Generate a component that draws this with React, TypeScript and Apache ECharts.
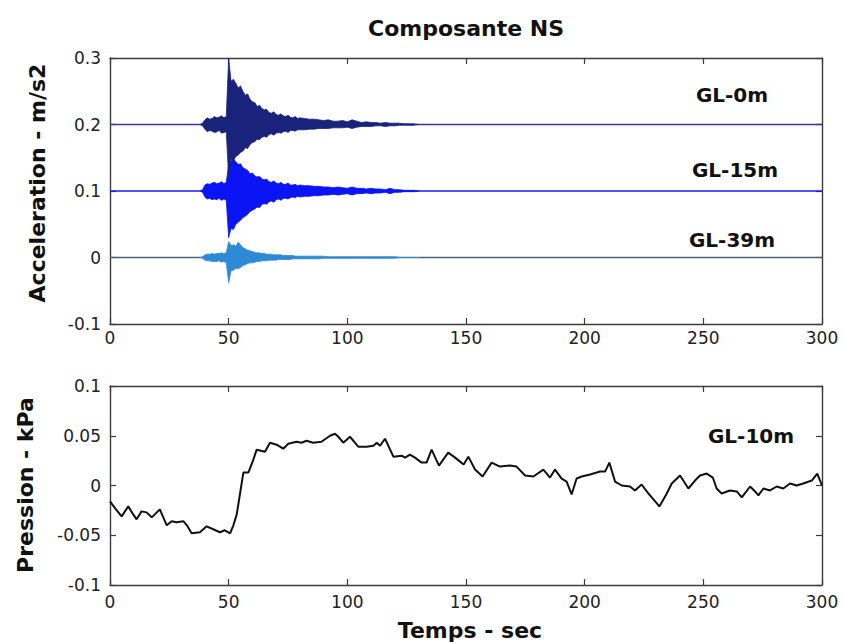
import React, { useEffect, useRef } from "react";
import * as echarts from "echarts";

// ---------- data ----------
const X_TICKS_MIN = 0;
const X_TICKS_MAX = 300;
const X_INTERVAL = 50;

const ACC_MIN = -0.1;
const ACC_MAX = 0.3;
const ACC_INTERVAL = 0.1;

const P_MIN = -0.1;
const P_MAX = 0.1;
const P_INTERVAL = 0.05;

// envelope sample times (s)
const ENV_T = [
  38, 39, 40, 41, 42, 43, 44, 45, 46, 47, 48, 49, 50, 51, 52, 53, 54, 55, 56, 57, 58, 59, 60,
  61, 62, 63, 64, 65, 66, 67, 68, 69, 70, 71, 72, 73, 74, 75, 76, 77, 78, 79, 80,
  82, 84, 86, 88, 90, 92, 94, 96, 98, 100, 102, 104, 106, 108, 110, 112, 114, 116, 118, 120,
  122, 124, 126, 128, 130,
];

// envelopes in milli m/s2, relative to each trace's baseline
const GL0_UP = [
  0, 2, 7, 10, 8, 9, 12, 10, 11, 13, 10, 12, 100, 65, 68, 62, 55, 58, 50, 44, 46, 38, 34,
  33, 27, 29, 24, 22, 23, 18, 17, 19, 15, 14, 16, 13, 12, 14, 11, 10, 12, 9, 10,
  9, 8, 8, 7, 6, 7, 5, 5, 6, 4, 7, 5, 3, 4, 3, 3, 2, 3, 2, 2,
  2, 1, 1, 1, 0,
];
const GL0_LO = [
  0, -2, -7, -11, -9, -10, -12, -11, -9, -13, -12, -11, -80, -52, -55, -48, -46, -42, -40, -35, -36, -30, -27,
  -26, -22, -23, -19, -18, -19, -15, -14, -16, -13, -12, -13, -11, -10, -12, -9, -9, -10, -8, -8,
  -8, -7, -7, -6, -6, -6, -5, -5, -5, -4, -6, -4, -3, -3, -3, -2, -2, -3, -2, -2,
  -1, -1, -1, -1, 0,
];
const GL15_UP = [
  0, 2, 9, 11, 10, 12, 13, 11, 12, 14, 11, 13, 40, 45, 48, 44, 40, 41, 35, 33, 31, 26, 27,
  23, 21, 22, 18, 17, 18, 14, 13, 15, 12, 11, 13, 10, 10, 12, 9, 9, 10, 8, 9,
  8, 8, 7, 7, 6, 6, 5, 6, 5, 4, 6, 4, 4, 3, 4, 3, 3, 2, 4, 2,
  2, 1, 1, 1, 0,
];
const GL15_LO = [
  0, -2, -9, -12, -11, -13, -12, -13, -11, -14, -12, -14, -70, -56, -58, -50, -47, -44, -40, -38, -35, -31, -29,
  -27, -24, -25, -20, -19, -20, -16, -15, -17, -13, -12, -14, -11, -11, -12, -10, -9, -10, -8, -9,
  -8, -8, -7, -7, -6, -6, -5, -6, -5, -4, -6, -4, -4, -3, -4, -3, -3, -2, -4, -2,
  -2, -1, -1, -1, 0,
];
const GL39_UP = [
  0, 1, 4, 5, 5, 6, 5, 6, 6, 7, 6, 7, 24, 18, 19, 17, 23, 19, 15, 13, 11, 10, 9,
  8, 7, 7, 6, 6, 5, 5, 5, 4, 4, 4, 4, 3, 3, 3, 3, 3, 2, 2, 2,
  2, 2, 2, 2, 2, 1, 1, 1, 1, 1, 1, 1, 1, 1, 1, 1, 1, 1, 1, 1,
  0, 0, 0, 0, 0,
];
const GL39_LO = [
  0, -1, -4, -5, -5, -6, -6, -6, -5, -7, -6, -8, -38, -20, -19, -16, -17, -15, -12, -11, -9, -8, -8,
  -7, -6, -6, -5, -5, -5, -4, -4, -4, -4, -3, -3, -3, -3, -3, -3, -2, -2, -2, -2,
  -2, -2, -2, -2, -1, -1, -1, -1, -1, -1, -1, -1, -1, -1, -1, -1, -1, -1, -1, -1,
  0, 0, 0, 0, 0,
];

const TRACE_NAMES = ["GL-0m", "GL-15m", "GL-39m"];
const TRACE_BASE = [0.2, 0.1, 0];

// pore pressure GL-10m (kPa)
const P_T = [
  0, 2.5, 4.9, 7.7, 9.5, 11.2, 13.3, 15.4, 17.6, 21, 23.9, 26, 28, 31, 32.4, 34.4, 37.9, 40.7,
  43.5, 46.3, 48.4, 50.6, 52, 53.4, 55, 56.2, 58.3, 60.4, 61.8, 65.3, 67.4, 70.2, 73, 75.1,
  78.6, 80.7, 82.8, 85.6, 89.1, 92.7, 94.8, 96.2, 98.3, 101.1, 104.6, 108.1, 111, 112.4,
  113.8, 115.9, 119.4, 122.9, 124.3, 126.4, 128.5, 131.3, 133.4, 135.5, 138.6, 142.5, 145.4,
  147.5, 149, 151, 153.8, 157, 160.8, 164.3, 168.5, 171.3, 174.9, 178.4, 182.6, 185.4, 187.5,
  190.3, 192.4, 194.5, 196.6, 198.8, 202.3, 206.5, 208.6, 210.4, 212.8, 215.6, 219.1, 221.2,
  224, 226.8, 231.5, 234.6, 236.7, 240.2, 243.7, 246.5, 248.6, 251.4, 254, 255.6, 257.7,
  261.2, 264.1, 266.2, 269.7, 271.8, 273.2, 275.3, 278.1, 280.9, 283.7, 286.5, 289.3, 292.1,
  295.7, 298, 300,
];
const P_V = [
  -0.016, -0.024, -0.031, -0.021, -0.028, -0.034, -0.026, -0.027, -0.032, -0.024, -0.04, -0.036,
  -0.037, -0.036, -0.04, -0.048, -0.047, -0.041, -0.044, -0.047, -0.045, -0.048, -0.04, -0.029,
  -0.005, 0.013, 0.013, 0.026, 0.036, 0.034, 0.043, 0.041, 0.037, 0.042, 0.044, 0.043, 0.045,
  0.043, 0.044, 0.05, 0.052, 0.049, 0.043, 0.049, 0.039, 0.039, 0.04, 0.043, 0.04, 0.047,
  0.029, 0.03, 0.028, 0.031, 0.028, 0.023, 0.023, 0.036, 0.02, 0.033, 0.028, 0.024, 0.021,
  0.029, 0.016, 0.009, 0.023, 0.019, 0.02, 0.019, 0.01, 0.009, 0.016, 0.008, 0.016, 0.007,
  0.004, -0.009, 0.007, 0.009, 0.011, 0.014, 0.014, 0.023, 0.004, 0.0, -0.001, -0.005, 0.001,
  -0.008, -0.021, -0.008, 0.002, 0.01, -0.003, 0.005, 0.01, 0.012, 0.008, -0.003, -0.008,
  -0.005, -0.006, -0.012, -0.001, -0.006, -0.01, -0.003, -0.005, -0.001, -0.003, 0.002, 0.0,
  0.002, 0.005, 0.012, 0.0,
];

export default function App() {
  const ref = useRef<HTMLDivElement>(null);

  useEffect(() => {
    const chart = echarts.init(ref.current as HTMLDivElement, null, { renderer: "svg" });

    const AX = "#3c3c3c";
    const axisLine = { show: true, onZero: false, lineStyle: { color: AX, width: 1.4 } };
    const tick = { show: true, inside: true, length: 6, lineStyle: { color: AX, width: 1.2 } };
    const lbl = { color: "#222", fontFamily: "DejaVu Sans", fontSize: 17 };

    const grids = [
      { left: 110, top: 58, width: 712, height: 266 },
      { left: 110, top: 386, width: 712, height: 199 },
    ];

    const xAxes: any[] = [];
    const yAxes: any[] = [];
    grids.forEach((_, gi) => {
      xAxes.push({
        type: "value", gridIndex: gi, position: "bottom",
        min: X_TICKS_MIN, max: X_TICKS_MAX, interval: X_INTERVAL,
        axisLine, axisTick: tick, splitLine: { show: false },
        axisLabel: { ...lbl, margin: gi === 0 ? 5 : 8 },
      });
      xAxes.push({
        type: "value", gridIndex: gi, position: "top",
        min: X_TICKS_MIN, max: X_TICKS_MAX, interval: X_INTERVAL,
        axisLine, axisTick: tick, splitLine: { show: false }, axisLabel: { show: false },
      });
      const ymin = gi === 0 ? ACC_MIN : P_MIN;
      const ymax = gi === 0 ? ACC_MAX : P_MAX;
      const yint = gi === 0 ? ACC_INTERVAL : P_INTERVAL;
      yAxes.push({
        type: "value", gridIndex: gi, position: "left",
        min: ymin, max: ymax, interval: yint,
        axisLine, axisTick: tick, splitLine: { show: false },
        axisLabel: { ...lbl, margin: 9 },
      });
      yAxes.push({
        type: "value", gridIndex: gi, position: "right",
        min: ymin, max: ymax, interval: yint,
        axisLine, axisTick: tick, splitLine: { show: false }, axisLabel: { show: false },
      });
    });

    const traceFill = ["#19237c", "#0a14f5", "#2f8ad6"];
    const traceBase = ["#3434a6", "#1a1af0", "#4d6478"];
    const envs = [
      [GL0_UP, GL0_LO],
      [GL15_UP, GL15_LO],
      [GL39_UP, GL39_LO],
    ];

    const series: any[] = [];
    TRACE_BASE.forEach((b, k) => {
      series.push({
        type: "line", name: TRACE_NAMES[k] + " base", xAxisIndex: 0, yAxisIndex: 0,
        data: [[X_TICKS_MIN, b], [X_TICKS_MAX, b]],
        symbol: "none", silent: true, z: 2,
        lineStyle: { color: traceBase[k], width: 1.3 },
      });
    });
    // draw GL-39m first, then GL-15m, then GL-0m on top
    [2, 1, 0].forEach((k) => {
      const b = TRACE_BASE[k];
      const [up, lo] = envs[k];
      series.push({
        type: "custom", name: TRACE_NAMES[k], xAxisIndex: 0, yAxisIndex: 0,
        data: [[ENV_T[0], b]], silent: true, z: 3 + (2 - k), clip: true,
        renderItem: (_p: any, api: any) => {
          const pts: number[][] = [];
          for (let i = 0; i < ENV_T.length; i++) pts.push(api.coord([ENV_T[i], b + up[i] / 1000]));
          for (let i = ENV_T.length - 1; i >= 0; i--) pts.push(api.coord([ENV_T[i], b + lo[i] / 1000]));
          return {
            type: "polygon",
            shape: { points: pts },
            style: { fill: traceFill[k], stroke: traceFill[k], lineWidth: 0.8 },
          };
        },
      });
    });
    series.push({
      type: "line", name: "GL-10m", xAxisIndex: 2, yAxisIndex: 2,
      data: P_T.map((t, i) => [t, P_V[i]]),
      symbol: "none", silent: true,
      lineStyle: { color: "#111", width: 2 },
    });

    const bold = { fontFamily: "DejaVu Sans", fontWeight: "bold", fill: "#111" };
    const graphic: any[] = [
      { type: "text", x: 466, y: 28, style: { ...bold, text: "Composante NS", fontSize: 22, align: "center", verticalAlign: "middle" } },
      { type: "text", x: 37, y: 183, rotation: Math.PI / 2, style: { ...bold, text: "Acceleration - m/s2", fontSize: 22, align: "center", verticalAlign: "middle" } },
      { type: "text", x: 25, y: 485, rotation: Math.PI / 2, style: { ...bold, text: "Pression - kPa", fontSize: 22, align: "center", verticalAlign: "middle" } },
      { type: "text", x: 470, y: 630, style: { ...bold, text: "Temps - sec", fontSize: 22, align: "center", verticalAlign: "middle" } },
      { type: "text", x: 732, y: 95, style: { ...bold, text: TRACE_NAMES[0], fontSize: 20, align: "center", verticalAlign: "middle" } },
      { type: "text", x: 735, y: 170, style: { ...bold, text: TRACE_NAMES[1], fontSize: 20, align: "center", verticalAlign: "middle" } },
      { type: "text", x: 732, y: 240, style: { ...bold, text: TRACE_NAMES[2], fontSize: 20, align: "center", verticalAlign: "middle" } },
      { type: "text", x: 751, y: 436, style: { ...bold, text: "GL-10m", fontSize: 20, align: "center", verticalAlign: "middle" } },
    ];

    chart.setOption({
      animation: false,
      backgroundColor: "#ffffff",
      grid: grids,
      xAxis: xAxes,
      yAxis: yAxes,
      series,
      graphic,
    });

    return () => chart.dispose();
  }, []);

  return (
    <div
      ref={ref}
      style={{ position: "fixed", left: 0, top: 0, width: 844, height: 642, background: "#fff" }}
    />
  );
}
